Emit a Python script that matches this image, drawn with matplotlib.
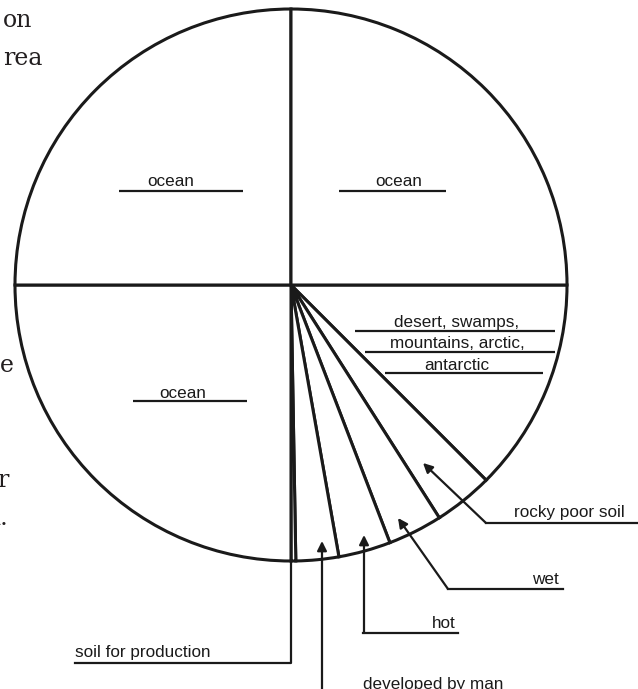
import matplotlib.pyplot as plt

# slice sizes in degrees, clockwise from 3 o'clock
slices = ["desert, swamps,\nmountains, arctic,\nantarctic", "rocky poor soil", "wet", "hot",
          "developed by man", "soil for production", "ocean", "ocean", "ocean"]
sizes = [45, 12.5, 11.5, 11, 9, 1, 90, 90, 90]

W, H = 638, 689
cx, cy, R = 291, 285, 276
ink = "#1a1a1a"

fig = plt.figure(figsize=(W / 100, H / 100), dpi=100)
ax = fig.add_axes([0, 0, 1, 1])

# y axis inverted below, so counterclock=True runs clockwise on screen
ax.pie(sizes, center=(cx, cy), radius=R, startangle=0, counterclock=True,
       wedgeprops=dict(facecolor="white", edgecolor=ink, linewidth=2.2))
ax.set_xlim(0, W)
ax.set_ylim(H, 0)
ax.set_aspect("equal")
ax.axis("off")

sans = dict(family="Liberation Sans", fontsize=12.3, color=ink)

def under(x0, x1, y):
    ax.plot([x0, x1], [y, y], color=ink, lw=1.6, solid_capstyle="butt")

# ocean labels with underline
for (tx, ty), (x0, x1, uy) in [((171, 182), (119, 243, 191)),
                               ((399, 182), (339, 446, 191)),
                               ((183, 393), (133, 247, 401))]:
    ax.text(tx, ty, slices[6], ha="center", va="center", **sans)
    under(x0, x1, uy)

# desert block
for line, ty, (x0, x1, uy) in zip(slices[0].split("\n"), [322, 344, 365],
                                  [(355, 555, 331), (365, 555, 352), (385, 543, 373)]):
    ax.text(457, ty, line, ha="center", va="center", **sans)
    under(x0, x1, uy)

arrow = dict(arrowstyle="-|>", lw=1.6, color=ink, mutation_scale=14, shrinkA=0, shrinkB=0)

# rocky poor soil
ax.annotate("", xy=(423, 463), xytext=(486, 523), arrowprops=arrow)
ax.plot([486, 638], [523, 523], color=ink, lw=1.6)
ax.text(625, 512, slices[1], ha="right", va="center", **sans)

# wet
ax.annotate("", xy=(398, 518), xytext=(448, 589), arrowprops=arrow)
ax.plot([448, 563], [589, 589], color=ink, lw=1.6)
ax.text(559, 580, slices[2], ha="right", va="center", **sans)

# hot
ax.annotate("", xy=(364, 535), xytext=(364, 633), arrowprops=arrow)
ax.plot([363, 458], [633, 633], color=ink, lw=1.6)
ax.text(456, 624, slices[3], ha="right", va="center", **sans)

# developed by man
ax.annotate("", xy=(322, 541), xytext=(322, 700), arrowprops=arrow)
ax.text(363, 684, slices[4], ha="left", va="center", **sans)

# soil for production
ax.plot([291, 291, 75], [560, 663, 663], color=ink, lw=1.6)
ax.text(75, 653, slices[5], ha="left", va="center", **sans)

# cut-off page text at left margin
serif = dict(family="DejaVu Serif", fontsize=17, color="#231f20", ha="right", va="baseline")
for s, x, y in [("on", 32, 27), ("rea", 42, 65), ("e", 14, 372), ("r", 8, 487), ("d.", 9, 525)]:
    ax.text(x, y, s, **serif)

fig.savefig("out.png", dpi=100)
